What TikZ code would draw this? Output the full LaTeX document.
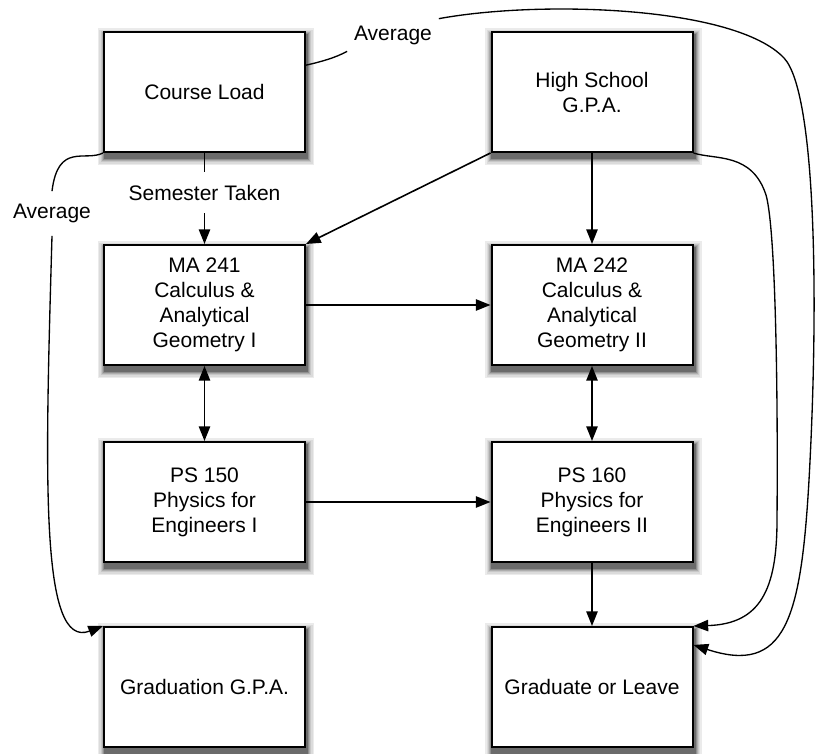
\documentclass[tikz,border=0pt]{standalone}
\usepackage{fontspec}
\setmainfont{Liberation Sans}
\usetikzlibrary{arrows.meta,backgrounds,calc}
\begin{document}
\begin{tikzpicture}[x=0.75pt,y=-0.75pt,
  txt/.style={font=\fontsize{15.75}{18.75}\selectfont},
  box/.style={txt, draw=black, line width=1.5pt, fill=white,
    minimum width=150.75pt, minimum height=90pt, inner sep=2pt, align=center},
  shadowlayer/.style={draw=none},
  lbl/.style={txt, inner xsep=5pt, inner ysep=9.5pt},
  bigtip/.tip={Triangle[length=11pt,width=8.5pt]},
  conn/.style={line width=1.2pt, -bigtip},
  dconn/.style={line width=1.2pt, bigtip-bigtip},
  curve/.style={line width=1pt},
  ccurve/.style={line width=1pt, -bigtip}]
\useasboundingbox (0,0) rectangle (817,753);

% boxes
\node[box] (cl)  at (204.5,92)  {Course Load};
\node[box] (hs)  at (592,92)    {High School\\G.P.A.};
\node[box] (ma1) at (204.5,305) {MA 241\\Calculus \&\\Analytical\\Geometry I};
\node[box] (ma2) at (592,305)   {MA 242\\Calculus \&\\Analytical\\Geometry II};
\node[box] (ps1) at (204.5,502) {PS 150\\Physics for\\Engineers I};
\node[box] (ps2) at (592,502)   {PS 160\\Physics for\\Engineers II};
\node[box] (gg)  at (204.5,687) {Graduation G.P.A.};
\node[box] (gl)  at (592,687)   {Graduate or Leave};

% soft drop shadows
\begin{scope}[on background layer]
\foreach \n in {cl,hs,ma1,ma2,ps1,ps2,gg,gl}{
  \foreach \e/\c [evaluate=\e as \d using 1.33*\e] in {5/8,4/14,3/22,2/32,1.2/44,0.5/58}{
    \fill[black!\c, shadowlayer] ($(\n.north west)+({1.5-\d},{4-\d})$)
      rectangle ($(\n.south east)+({1.5+\d},{5.5+\d})$);
  }
}
\end{scope}

% labels
\node[lbl] (st)  at (204.5,192.5) {Semester Taken};
\node[lbl] (avl) at (52,213.5)    {Average};
\node[lbl, inner ysep=5pt] (avt) at (393,35) {Average};

% straight connectors
\draw[curve] (cl.south) -- (st.north);
\draw[conn] (st.south) -- (ma1.north);
\draw[conn] (hs.south west) -- (ma1.north east);
\draw[conn] (hs.south) -- (ma2.north);
\draw[conn] (ma1.east) -- (ma2.west);
\draw[dconn] (ma1.south) -- (ps1.north);
\draw[dconn] (ma2.south) -- (ps2.north);
\draw[conn] (ps1.east) -- (ps2.west);
\draw[conn] (ps2.south) -- (gl.north);

% left curve: Course Load -> Graduation G.P.A.
\draw[curve] (cl.south west) .. controls (85,162) and (58,142) .. (avl.north);
\draw[ccurve] (avl.south) .. controls (45,480) and (40,650) .. (gg.north west);

% top curve: Course Load -> Graduate or Leave
\draw[curve] ($(cl.north east)!0.28!(cl.south east)$) .. controls (320,62) and (335,58) .. (avt.south west);
\draw[ccurve] (avt.north east) .. controls (540,0) and (735,6) .. (784,58)
  .. controls (816,92) and (819,300) .. (809,480)
  .. controls (801,620) and (785,675) .. ($(gl.north east)!0.155!(gl.south east)$);

% inner right curve: High School G.P.A. -> Graduate or Leave
\draw[ccurve] (hs.south east) .. controls (715,160) and (752,152) .. (766,195)
  .. controls (776,230) and (778,400) .. (777,520)
  .. controls (777,590) and (760,624) .. (gl.north east);
\end{tikzpicture}
\end{document}
